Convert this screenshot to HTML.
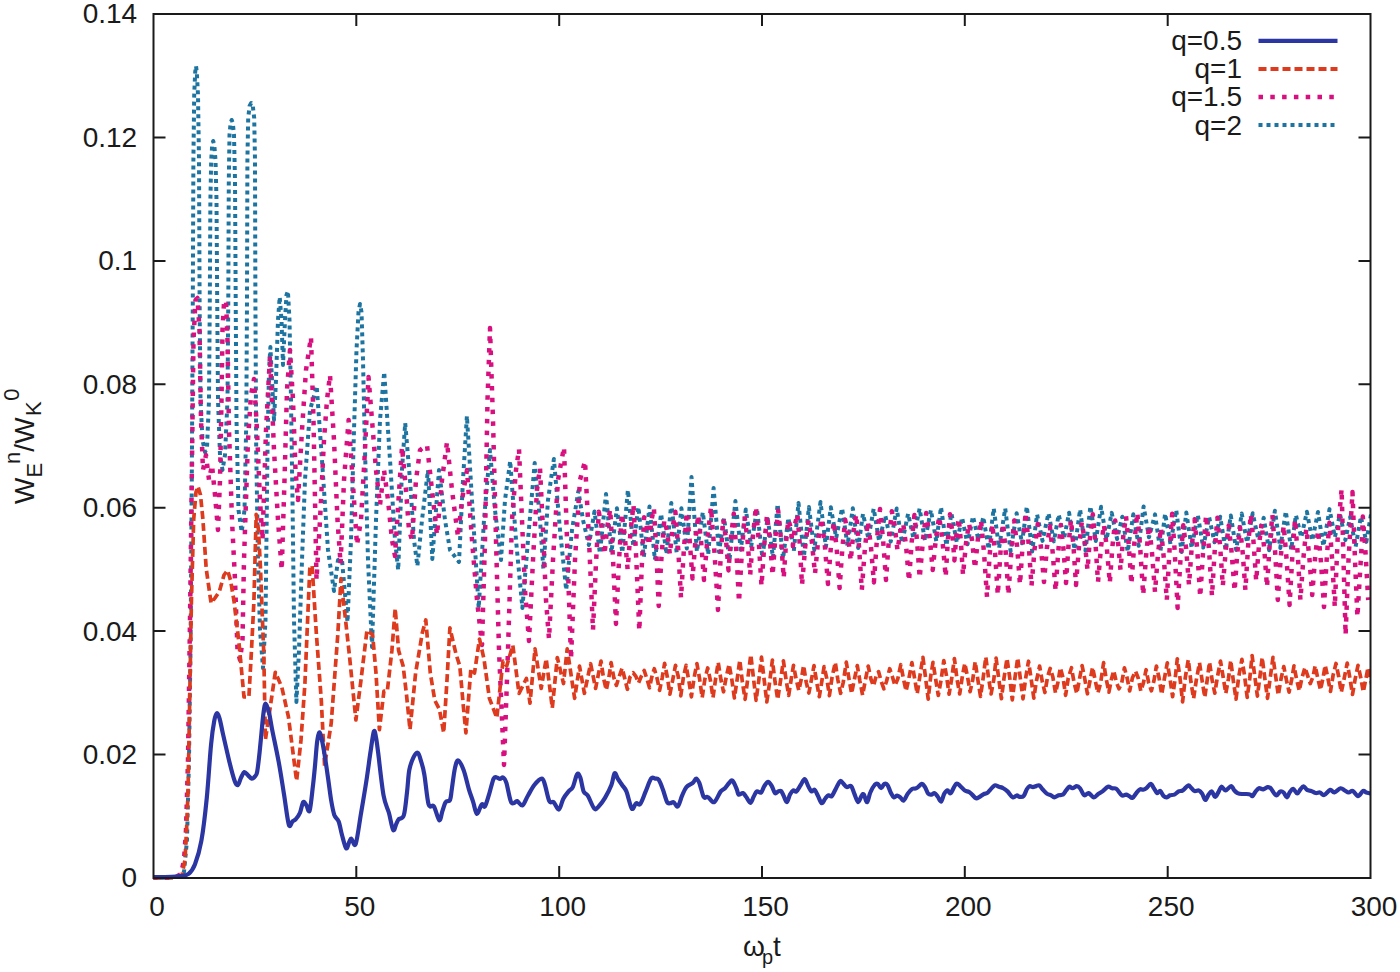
<!DOCTYPE html><html><head><meta charset="utf-8"><style>html,body{margin:0;padding:0;background:#fff;}svg{display:block}</style></head><body>
<svg width="1400" height="972" viewBox="0 0 1400 972" font-family='"Liberation Sans", sans-serif' font-size="28" fill="#1a1a1a">
<rect width="1400" height="972" fill="#fff"/>
<defs><clipPath id="c"><rect x="153.5" y="12.0" width="1217.0" height="868.0"/></clipPath></defs>
<g clip-path="url(#c)" fill="none" stroke-linejoin="round">
<path d="M153.0 878.0L180.0 877.0L184.0 872.0L187.0 840.0L189.0 760.0L190.5 650.0L191.8 480.0L192.8 300.0L193.4 160.0L194.2 95.0L195.2 72.0L196.0 66.0L196.8 72.0L198.0 95.0L199.0 160.0L199.6 300.0L200.5 400.0L202.5 440.0L205.0 452.0L207.0 448.0L209.0 400.0L209.8 300.0L210.4 200.0L211.2 160.0L212.2 145.0L213.2 141.0L214.3 145.0L215.5 160.0L216.5 200.0L217.2 300.0L218.0 400.0L220.0 455.0L222.5 470.0L225.0 455.0L227.5 400.0L228.3 300.0L228.8 180.0L229.5 135.0L230.6 123.0L231.7 120.0L232.8 123.0L234.0 135.0L235.0 180.0L235.7 300.0L236.5 420.0L238.5 510.0L241.7 532.0L244.5 510.0L246.3 420.0L247.0 300.0L247.4 160.0L248.2 118.0L249.6 106.0L251.2 103.0L252.8 106.0L254.2 118.0L255.0 160.0L255.4 300.0L256.2 450.0L258.0 560.0L260.0 630.0L263.0 668.0L265.5 620.0L267.5 450.0L269.0 370.0L270.4 347.0L272.0 380.0L274.0 420.0L276.0 380.0L278.0 320.0L279.7 297.0L281.5 320.0L283.0 365.0L285.0 320.0L286.5 295.0L287.9 291.0L289.5 320.0L291.0 400.0L292.5 500.0L294.0 620.0L296.4 702.0L299.0 650.0L302.0 560.0L305.0 480.0L310.0 410.0L316.7 386.0L322.0 460.0L328.0 550.0L334.0 591.0L338.0 560.0L342.0 560.0L347.5 622.0L351.0 540.0L354.0 430.0L356.5 350.0L358.5 312.0L360.0 304.0L361.5 312.0L363.0 360.0L365.0 450.0L368.0 560.0L372.0 647.0L376.0 520.0L380.0 420.0L384.2 372.0L390.0 460.0L395.0 540.0L398.2 570.0L402.0 470.0L405.2 423.0L410.0 480.0L414.0 540.0L417.4 566.0L422.0 520.0L428.0 470.0L432.3 559.0L436.0 510.0L439.0 470.0L445.0 520.0L450.0 550.0L459.0 562.0L463.0 480.0L466.9 416.0L472.0 500.0L478.7 608.0L484.0 520.0L490.0 450.0L495.0 510.0L501.0 560.0L505.0 500.0L510.2 461.0L516.0 540.0L522.4 608.0L528.0 540.0L534.7 463.0L540.0 520.0L543.4 569.0L548.0 500.0L553.9 459.0L560.0 530.0L566.2 590.0L572.0 530.0L578.4 491.0L583.0 520.0L588.9 545.0L594.5 511.4L599.9 553.4L606.0 494.0L611.4 552.6L616.9 508.2L622.3 552.7L627.9 490.0L633.3 546.4L638.4 507.1L643.8 557.1L649.5 506.5L654.9 559.7L661.1 513.8L666.5 554.2L671.3 503.0L676.7 552.9L681.4 508.3L686.8 548.6L691.5 477.0L696.9 551.6L702.8 512.2L708.2 554.6L713.6 488.0L719.0 551.9L724.1 518.0L729.5 559.9L735.4 501.0L740.8 549.7L745.8 509.5L751.2 546.1L757.0 509.0L762.4 557.7L767.6 517.5L773.0 557.7L777.6 504.0L783.0 558.7L788.4 517.8L793.8 551.0L798.5 503.0L803.9 556.7L808.9 507.0L814.3 550.0L820.5 502.0L825.9 546.8L830.8 507.2L836.2 537.9L842.1 508.1L847.5 545.4L852.8 508.3L858.2 548.0L863.0 513.7L868.4 538.7L873.7 508.6L879.1 541.0L885.3 515.6L890.7 541.6L896.7 508.5L902.1 542.9L908.1 513.7L913.5 538.5L919.6 508.6L925.0 540.9L930.9 509.9L936.3 541.4L941.0 507.1L946.4 545.7L951.4 513.2L956.8 542.6L962.1 517.5L967.5 544.3L973.0 516.4L978.4 539.7L983.3 516.9L988.7 549.3L993.7 508.3L999.1 548.1L1005.2 508.4L1010.6 551.3L1016.6 513.2L1022.0 543.3L1026.8 506.5L1032.2 551.4L1037.1 514.5L1042.5 540.9L1048.5 513.2L1053.9 541.4L1058.7 514.6L1064.1 538.0L1069.1 512.7L1074.5 549.8L1080.1 509.4L1085.5 550.8L1090.4 506.2L1095.8 541.0L1101.1 506.7L1106.5 539.6L1111.7 512.9L1117.1 539.0L1122.3 516.7L1127.7 551.7L1133.3 514.3L1138.7 545.8L1143.6 506.4L1149.0 537.3L1155.0 514.4L1160.4 551.4L1165.1 513.6L1170.5 544.2L1176.2 509.8L1181.6 552.0L1186.3 512.6L1191.7 548.1L1197.8 514.8L1203.2 547.6L1209.1 517.0L1214.5 542.3L1220.2 516.8L1225.6 550.1L1230.8 515.5L1236.2 550.0L1241.7 513.5L1247.1 542.7L1252.7 513.3L1258.1 538.2L1263.7 517.9L1269.1 550.2L1274.9 510.7L1280.3 548.0L1285.8 511.3L1291.2 549.6L1295.9 515.0L1301.3 537.4L1306.9 511.8L1312.3 540.5L1318.0 512.0L1323.4 546.2L1329.5 509.1L1334.9 537.2L1340.0 514.1L1345.4 540.0L1350.2 516.9L1355.6 546.9L1360.9 516.7L1366.3 541.9L1372.0 508.4L1377.4 543.5" stroke="#1d74a0" stroke-width="4" stroke-dasharray="4 4"/>
<path d="M153.0 878.0L175.0 877.5L181.0 874.0L184.0 860.0L186.0 830.0L188.0 760.0L190.0 620.0L192.0 460.0L193.5 340.0L195.5 300.0L197.5 298.0L199.5 330.0L201.0 420.0L203.0 470.0L206.0 455.0L209.0 480.0L212.0 465.0L215.0 495.0L218.0 530.0L220.0 480.0L221.5 400.0L222.5 330.0L224.0 303.0L226.0 300.0L227.5 340.0L229.0 430.0L232.0 520.0L235.0 580.0L237.5 650.0L240.0 660.0L242.5 640.0L244.0 560.0L248.0 440.0L251.0 395.0L254.0 379.0L257.0 430.0L260.0 500.0L262.5 540.0L266.0 430.0L270.0 356.0L274.0 450.0L278.0 520.0L281.7 570.0L284.5 480.0L287.0 390.0L290.0 350.0L293.0 400.0L295.5 470.0L298.0 500.0L302.0 430.0L306.0 370.0L311.0 337.0L313.5 420.0L316.5 580.0L320.0 520.0L324.0 440.0L327.0 400.0L330.0 375.0L334.0 440.0L337.5 520.0L340.6 564.0L344.0 480.0L348.6 420.0L352.0 470.0L357.0 545.0L361.0 520.0L365.0 450.0L368.5 377.0L372.0 420.0L376.0 470.0L380.0 505.0L384.0 470.0L388.0 500.0L392.0 540.0L395.0 556.0L398.5 500.0L402.0 447.0L406.0 490.0L409.0 530.0L412.0 540.0L416.0 480.0L420.0 450.0L427.0 445.0L432.0 490.0L437.0 535.0L442.0 480.0L447.0 442.0L452.0 490.0L458.0 537.0L462.0 500.0L467.0 470.0L472.0 540.0L477.0 600.0L482.0 645.0L485.0 540.0L487.5 400.0L490.0 328.0L493.0 420.0L496.0 540.0L499.0 650.0L504.0 765.0L508.0 650.0L512.0 520.0L516.0 470.0L519.0 449.0L522.0 520.0L525.0 590.0L529.0 641.0L533.0 560.0L537.0 490.0L540.0 468.0L543.0 530.0L546.0 600.0L549.0 639.0L553.0 560.0L558.0 480.0L564.0 447.0L567.0 540.0L571.0 659.0L575.0 560.0L580.0 480.0L585.0 461.0L589.0 540.0L593.0 630.0L595.9 564.9L598.8 511.8L601.6 527.1L604.5 554.5L607.4 525.8L610.2 509.2L613.1 560.6L616.0 624.0L618.9 562.7L621.8 513.5L624.7 535.3L627.6 569.2L630.6 530.9L633.5 504.7L636.4 561.8L639.3 631.0L641.7 568.1L644.1 517.2L646.6 525.4L649.0 545.5L651.4 520.8L653.9 508.1L656.3 551.0L658.7 606.0L661.5 557.0L664.3 520.0L667.1 531.2L669.9 554.4L672.6 527.1L675.4 511.8L678.2 548.9L681.0 598.0L683.9 549.1L686.8 512.1L689.6 539.3L692.5 578.5L695.4 540.7L698.2 514.9L701.1 541.4L704.0 580.0L707.5 537.6L711.0 507.3L714.5 552.6L718.0 610.0L720.6 558.5L723.2 518.9L725.9 538.7L728.5 570.4L731.1 536.0L733.8 513.6L736.4 551.8L739.0 602.0L741.8 553.1L744.6 516.1L747.4 539.4L750.2 574.7L753.1 534.6L755.9 506.6L758.7 540.3L761.5 586.0L764.3 544.6L767.0 515.2L769.8 539.3L772.6 575.3L775.4 537.0L778.2 510.8L780.9 538.4L783.7 578.0L786.0 543.0L788.3 519.9L790.6 527.1L792.9 546.2L795.1 524.0L797.4 513.8L799.7 543.4L802.0 585.0L805.2 546.8L808.5 520.5L811.8 541.1L815.0 573.8L818.2 539.9L821.5 518.1L824.8 545.0L828.0 584.0L830.9 546.8L833.8 521.6L836.7 548.8L839.6 588.0L842.4 547.9L845.2 519.8L847.9 534.3L850.7 560.8L853.5 531.6L856.2 514.3L859.0 546.2L861.8 590.0L864.8 549.7L867.8 521.4L870.9 545.9L873.9 582.4L876.9 539.8L880.0 509.1L883.0 538.6L886.0 580.0L888.9 539.6L891.8 511.2L894.6 524.8L897.5 550.4L900.4 530.9L903.2 523.4L906.1 546.2L909.0 581.0L911.7 542.0L914.4 515.1L917.0 540.5L919.7 578.0L923.0 539.6L926.2 513.1L929.5 535.6L932.7 570.1L936.0 537.4L939.2 516.6L942.5 540.8L945.7 577.0L947.9 539.6L950.0 514.3L952.2 531.4L954.4 560.4L956.5 533.3L958.7 518.2L960.8 540.6L963.0 575.0L966.0 543.2L969.0 523.5L972.0 539.9L975.0 568.4L978.0 538.2L981.0 520.1L984.0 552.6L987.0 597.0L989.7 554.6L992.4 524.2L995.1 553.6L997.8 595.0L1000.4 553.1L1003.1 523.2L1005.8 553.1L1008.4 595.0L1011.3 551.7L1014.2 520.5L1017.1 546.5L1020.0 584.6L1022.8 542.6L1025.7 512.5L1028.6 543.3L1031.5 586.0L1034.6 548.9L1037.8 523.9L1040.9 546.9L1044.0 582.0L1046.9 547.9L1049.8 525.7L1052.7 552.4L1055.6 591.0L1058.2 552.0L1060.8 524.9L1063.4 548.0L1066.0 583.0L1068.5 545.4L1071.0 519.7L1073.5 546.4L1076.0 585.0L1078.9 547.6L1081.8 522.2L1084.6 540.1L1087.5 570.0L1090.1 536.2L1092.8 514.3L1095.4 542.2L1098.0 582.0L1101.0 547.2L1103.9 524.5L1106.8 547.7L1109.8 583.0L1112.5 545.8L1115.2 520.5L1117.8 539.3L1120.5 570.0L1123.2 537.0L1126.0 516.1L1128.7 544.0L1131.4 584.0L1134.4 542.4L1137.3 512.7L1140.2 547.9L1143.2 595.0L1146.2 554.3L1149.1 525.5L1152.0 552.8L1155.0 592.0L1158.0 554.0L1160.9 527.9L1163.8 558.0L1166.8 600.0L1169.5 550.8L1172.2 513.7L1174.9 554.8L1177.6 608.0L1180.4 560.6L1183.3 525.2L1186.2 549.1L1189.0 585.0L1191.8 546.1L1194.6 519.2L1197.4 552.1L1200.2 597.0L1203.2 550.1L1206.1 515.2L1209.0 549.6L1212.0 596.0L1214.7 550.8L1217.4 517.7L1220.1 545.8L1222.8 586.0L1225.8 549.7L1228.7 525.5L1231.6 552.2L1234.6 591.0L1237.3 553.1L1240.0 527.3L1242.7 552.6L1245.4 590.0L1248.1 546.1L1250.8 514.2L1253.5 541.6L1256.2 581.0L1258.9 546.3L1261.6 523.5L1264.3 549.3L1267.0 587.0L1269.7 544.8L1272.4 514.6L1275.1 551.3L1277.8 600.0L1280.8 556.8L1283.7 525.5L1286.6 559.3L1289.6 605.0L1292.3 556.3L1295.0 519.5L1297.7 553.8L1300.4 600.0L1303.4 558.2L1306.3 528.5L1309.2 555.7L1312.2 595.0L1315.2 556.6L1318.1 530.3L1321.0 562.6L1324.0 607.0L1326.7 558.9L1329.4 522.8L1332.1 558.9L1334.8 607.0L1338.0 530.0L1341.6 489.0L1343.5 560.0L1345.6 635.0L1348.5 560.0L1352.5 492.0L1355.0 560.0L1357.4 617.0L1362.0 540.0L1362.8 516.5L1365.5 552.3L1368.2 600.0" stroke="#d8107f" stroke-width="4.5" stroke-dasharray="4.5 7.3"/>
<path d="M153.0 878.0L175.0 877.5L182.0 875.0L185.0 860.0L187.0 820.0L188.1 789.0L189.7 700.3L191.4 601.6L193.7 519.3L196.0 492.0L198.0 486.4L200.5 495.0L202.9 519.3L206.2 568.7L211.1 603.2L215.0 598.0L219.3 591.7L224.0 575.0L227.6 570.3L230.5 580.0L234.1 601.6L239.1 644.3L244.0 697.0L248.9 697.0L251.5 650.0L253.9 601.6L256.2 514.4L258.5 530.0L260.5 568.7L263.8 654.2L265.4 739.7L270.3 706.8L275.3 672.3L281.8 687.1L288.4 716.7L296.6 780.9L301.0 740.0L304.9 683.8L309.8 568.7L312.1 565.4L316.4 634.5L321.3 700.3L324.6 766.0L331.2 723.3L337.8 634.5L341.0 578.5L349.3 654.2L355.9 720.0L361.0 680.0L367.0 630.1L372.6 634.7L376.0 673.1L379.4 729.7L383.9 691.2L387.3 691.2L391.9 650.5L395.2 608.6L398.6 650.5L403.2 666.3L406.6 695.7L410.0 729.7L415.6 673.1L422.4 632.4L425.8 620.0L430.3 673.1L434.8 700.3L439.4 709.3L443.7 732.8L447.0 680.0L449.9 627.9L456.0 654.0L459.8 666.0L463.5 708.0L465.9 732.8L470.9 668.6L474.5 673.0L479.5 639.0L484.0 659.0L489.4 698.3L496.8 718.0L503.0 661.0L506.7 666.0L512.8 645.2L519.0 693.3L526.4 678.5L530.0 703.2L535.0 648.9L541.2 688.4L546.2 658.8L552.3 708.0L557.3 657.5L563.5 683.5L567.2 648.9L574.6 698.3L579.5 666.2L584.4 693.3L590.6 663.7L595.6 688.4L601.0 661.1L603.6 678.4L606.3 690.1L609.0 676.7L611.1 662.5L613.7 677.1L616.4 685.4L619.0 677.1L622.1 668.2L624.7 678.3L627.4 689.3L630.0 677.0L633.2 672.8L635.9 676.4L638.5 683.0L641.2 676.5L644.2 670.5L646.9 678.7L649.5 687.8L652.2 675.2L654.3 668.7L656.9 677.6L659.6 690.4L662.2 677.8L664.6 663.3L667.3 676.8L669.9 694.2L672.6 680.6L675.5 665.3L678.2 676.3L680.8 695.8L683.5 676.5L686.1 665.4L688.8 680.5L691.4 696.8L694.1 677.7L696.9 663.5L699.6 678.9L702.2 697.5L704.9 679.0L707.7 668.0L710.4 680.3L713.0 697.5L715.7 678.2L718.2 662.3L720.9 679.5L723.5 691.8L726.2 677.1L729.1 664.3L731.8 679.3L734.4 697.9L737.1 679.7L739.8 660.2L742.4 682.3L745.1 699.3L747.7 679.3L750.8 654.8L753.5 678.4L756.1 700.3L758.8 680.2L761.5 657.2L764.2 680.0L766.8 702.0L769.5 683.2L772.4 660.1L775.0 681.6L777.7 699.4L780.3 682.2L783.4 660.8L786.1 679.9L788.7 695.4L791.4 677.9L793.5 665.4L796.2 679.5L798.8 690.4L801.5 678.3L803.6 665.5L806.3 682.6L808.9 693.0L811.6 678.8L814.0 665.6L816.7 682.3L819.3 696.7L822.0 680.1L824.1 666.6L826.8 678.6L829.4 695.6L832.1 677.1L835.3 662.4L837.9 680.0L840.6 693.3L843.2 682.6L846.3 662.2L849.0 678.7L851.6 693.5L854.3 679.7L857.3 665.6L859.9 681.1L862.6 695.1L865.2 681.0L868.2 666.0L870.9 679.0L873.5 685.9L876.2 676.1L878.6 671.7L881.2 681.3L883.9 688.8L886.5 681.5L889.7 668.7L892.4 676.7L895.0 685.6L897.7 679.1L900.8 664.7L903.5 679.0L906.1 691.0L908.8 679.0L911.9 662.5L914.5 677.7L917.2 693.7L919.8 676.8L922.9 657.3L925.5 677.1L928.2 699.1L930.8 675.7L933.0 662.4L935.7 679.4L938.3 695.5L941.0 680.5L943.8 660.6L946.4 675.3L949.1 694.2L951.7 678.4L954.4 658.6L957.1 679.7L959.7 694.0L962.4 676.0L964.8 663.3L967.4 676.1L970.1 691.7L972.7 680.0L975.2 661.6L977.9 680.1L980.5 696.4L983.2 677.7L985.8 657.1L988.5 677.4L991.1 694.0L993.8 679.6L996.1 658.2L998.7 678.3L1001.4 698.7L1004.0 678.3L1007.0 658.5L1009.6 676.7L1012.3 699.9L1014.9 678.3L1017.7 658.0L1020.3 678.2L1023.0 698.8L1025.6 678.6L1028.5 661.2L1031.1 678.6L1033.8 698.1L1036.4 681.0L1039.6 666.1L1042.3 681.7L1044.9 692.5L1047.6 676.8L1050.2 668.4L1052.8 676.8L1055.5 693.0L1058.1 681.7L1060.3 667.6L1063.0 677.5L1065.6 695.3L1068.3 677.9L1071.5 667.7L1074.1 682.8L1076.8 693.5L1079.4 679.5L1082.1 665.6L1084.8 679.0L1087.4 693.8L1090.1 680.4L1092.6 667.3L1095.3 681.0L1097.9 693.0L1100.6 683.2L1103.6 662.7L1106.2 679.0L1108.9 692.1L1111.5 679.0L1113.7 670.6L1116.4 682.4L1119.0 688.8L1121.7 683.0L1124.4 667.8L1127.1 677.8L1129.7 690.9L1132.4 677.9L1135.5 671.1L1138.2 678.0L1140.8 691.0L1143.5 682.6L1146.1 669.7L1148.7 682.9L1151.4 690.8L1154.0 680.5L1156.4 666.0L1159.0 677.5L1161.7 694.4L1164.3 679.1L1167.3 662.9L1169.9 678.1L1172.6 696.7L1175.2 678.5L1177.3 658.8L1180.0 678.0L1182.6 701.8L1185.3 677.5L1188.3 659.7L1190.9 681.6L1193.6 698.6L1196.2 680.7L1199.5 662.8L1202.1 680.5L1204.8 697.4L1207.4 678.4L1209.5 662.0L1212.2 680.4L1214.8 693.1L1217.5 676.5L1220.5 661.0L1223.2 677.4L1225.8 693.4L1228.5 678.5L1230.7 660.4L1233.4 681.2L1236.0 699.2L1238.7 676.9L1241.9 659.3L1244.5 675.2L1247.2 697.4L1249.8 678.2L1252.1 655.5L1254.8 676.5L1257.4 696.1L1260.1 675.2L1262.2 657.5L1264.8 678.3L1267.5 698.3L1270.1 678.7L1273.0 657.3L1275.7 676.6L1278.3 695.1L1281.0 679.0L1283.8 666.6L1286.4 679.9L1289.1 692.1L1291.7 679.4L1294.0 665.9L1296.6 679.5L1299.3 690.9L1301.9 678.0L1305.0 667.5L1307.7 675.9L1310.3 683.6L1313.0 676.7L1315.2 665.8L1317.8 678.4L1320.5 690.0L1323.1 677.5L1325.2 665.2L1327.8 677.7L1330.5 691.5L1333.1 675.1L1336.0 663.5L1338.7 676.5L1341.3 692.3L1344.0 679.3L1347.2 663.1L1349.9 678.0L1352.5 694.5L1355.2 678.8L1358.0 665.3L1360.6 676.9L1363.3 691.8L1365.9 678.8L1368.0 667.6L1370.7 679.6L1373.3 692.0L1376.0 677.4" stroke="#dd3a1e" stroke-width="3.7" stroke-dasharray="8 4"/>
<path d="M154.3 877.1C157.2 877.1 167.1 877.1 171.4 876.9C175.7 876.7 177.1 876.6 180.0 876.1C182.9 875.6 186.1 875.9 188.6 873.9C191.1 871.9 192.9 869.8 195.0 864.3C197.1 858.8 199.4 851.8 201.4 840.7C203.4 829.6 205.2 813.9 206.8 797.8C208.4 781.7 209.8 757.1 211.1 744.3C212.3 731.4 213.3 725.9 214.3 720.7C215.3 715.5 216.0 713.6 216.9 713.2C217.8 712.9 218.6 715.2 219.6 718.6C220.6 722.0 221.3 726.5 222.9 733.6C224.5 740.7 227.4 753.5 229.3 761.4C231.2 769.2 233.2 776.8 234.6 780.7C236.0 784.6 236.8 785.5 237.9 785.0C239.0 784.5 240.0 779.6 241.1 777.5C242.2 775.4 243.1 772.5 244.3 772.1C245.5 771.8 246.8 774.3 248.1 775.4C249.3 776.5 250.7 778.4 251.8 778.6C253.0 778.8 254.1 777.5 255.0 776.4C255.9 775.3 256.4 775.7 257.1 772.1C257.8 768.5 258.6 761.4 259.3 755.0C260.0 748.6 260.7 740.8 261.4 733.6C262.1 726.5 262.9 717.1 263.6 712.1C264.3 707.1 264.8 703.6 265.7 703.6C266.6 703.6 267.8 707.8 268.9 712.1C270.0 716.4 270.5 721.1 272.1 729.3C273.7 737.5 276.6 750.7 278.6 761.4C280.6 772.1 282.2 783.1 283.9 793.6C285.6 804.1 287.4 820.0 288.8 824.6C290.2 829.2 291.4 822.3 292.5 821.4C293.6 820.5 294.4 820.7 295.7 819.3C296.9 817.9 298.8 815.7 300.0 812.8C301.2 809.9 302.1 803.4 303.2 802.1C304.3 800.9 305.3 803.9 306.4 805.3C307.5 806.7 308.5 813.7 309.6 810.7C310.7 807.7 311.9 794.6 312.8 787.1C313.7 779.6 314.3 773.2 315.0 765.7C315.7 758.2 316.4 747.6 317.1 742.1C317.8 736.6 318.6 733.2 319.3 732.5C320.0 731.8 320.7 735.2 321.4 737.9C322.1 740.6 322.5 742.2 323.6 748.6C324.7 755.0 326.6 767.8 327.8 776.4C329.1 785.0 330.0 793.6 331.1 800.0C332.2 806.4 333.1 811.4 334.3 815.0C335.6 818.6 337.4 818.2 338.6 821.4C339.9 824.6 340.6 829.8 341.8 834.3C343.1 838.8 344.9 847.0 346.1 848.2C347.4 849.5 348.4 843.4 349.3 841.8C350.2 840.2 350.3 838.2 351.4 838.6C352.5 839.0 354.1 848.2 355.7 843.9C357.3 839.6 359.3 823.3 361.1 812.8C362.9 802.3 364.8 791.1 366.4 780.7C368.0 770.4 369.4 758.9 370.7 750.7C371.9 742.5 373.0 733.5 373.9 731.4C374.8 729.3 375.4 734.3 376.1 737.9C376.8 741.5 376.9 743.3 378.2 752.9C379.4 762.5 381.8 785.7 383.6 795.7C385.4 805.7 387.3 807.1 388.9 812.8C390.5 818.5 391.9 828.2 393.2 830.0C394.4 831.8 395.5 825.4 396.4 823.6C397.3 821.8 397.4 820.7 398.6 819.3C399.9 817.9 402.5 819.6 403.9 815.0C405.3 810.4 406.2 798.9 407.1 791.4C408.0 783.9 408.2 775.7 409.3 770.0C410.4 764.3 412.2 760.0 413.6 757.1C415.0 754.2 416.6 752.2 417.8 752.9C419.1 753.6 420.0 757.8 421.1 761.4C422.2 765.0 423.1 767.1 424.3 774.3C425.6 781.4 427.0 798.9 428.6 804.3C430.2 809.6 432.1 803.7 433.9 806.4C435.7 809.1 437.9 819.6 439.3 820.3C440.7 821.0 441.4 813.7 442.5 810.7C443.6 807.7 444.4 803.9 445.7 802.1C446.9 800.3 449.0 802.1 450.0 800.0C451.0 797.9 451.0 794.6 451.8 789.3C452.6 783.9 453.9 772.7 455.0 767.9C456.1 763.1 456.8 760.0 458.2 760.4C459.6 760.8 461.8 765.2 463.6 770.0C465.4 774.8 467.3 783.9 468.9 789.3C470.5 794.6 471.9 798.0 473.2 802.1C474.5 806.2 475.5 813.5 476.9 813.9C478.3 814.3 480.4 805.5 481.8 804.3C483.2 803.0 483.8 808.2 485.0 806.4C486.2 804.6 487.9 798.2 489.3 793.6C490.7 789.0 492.4 781.3 493.6 778.6C494.9 775.9 495.7 777.4 496.8 777.5C497.9 777.6 498.9 779.0 500.0 779.0C501.1 779.0 502.1 776.9 503.2 777.5C504.3 778.1 505.1 779.0 506.4 782.9C507.6 786.8 509.4 797.7 510.7 801.1C511.9 804.5 512.8 803.2 513.9 803.2C515.0 803.2 515.7 800.7 517.1 801.1C518.5 801.5 520.7 806.3 522.5 805.4C524.3 804.5 525.9 799.1 527.9 795.7C529.9 792.3 532.0 787.9 534.3 785.0C536.6 782.1 540.0 778.6 541.8 778.6C543.6 778.6 543.8 781.2 545.0 785.0C546.2 788.8 547.9 798.2 549.3 801.1C550.7 804.0 552.0 800.7 553.6 802.1C555.2 803.5 557.3 810.1 558.9 809.6C560.5 809.1 561.6 801.9 563.2 798.9C564.8 795.9 567.0 793.4 568.6 791.4C570.2 789.4 571.4 790.0 572.8 787.1C574.2 784.2 575.9 775.9 577.1 774.3C578.4 772.7 579.2 774.6 580.3 777.5C581.4 780.4 582.4 788.4 583.6 791.4C584.9 794.4 586.0 792.8 587.8 795.7C589.6 798.6 592.5 806.8 594.3 808.6C596.1 810.4 596.8 808.2 598.6 806.4C600.4 804.6 602.9 801.5 605.0 797.9C607.1 794.3 609.8 789.1 611.4 785.0C613.0 780.9 613.5 774.3 614.6 773.2C615.7 772.1 616.5 776.6 617.8 778.6C619.0 780.6 620.7 782.9 622.1 785.0C623.5 787.1 624.8 787.5 626.4 791.4C628.0 795.3 630.2 806.6 631.8 808.6C633.4 810.6 634.7 804.0 636.1 803.2C637.5 802.4 638.7 805.9 640.3 803.9C641.9 801.9 643.9 795.6 645.7 791.4C647.5 787.2 649.5 780.7 651.1 778.6C652.7 776.5 654.0 778.4 655.3 778.6C656.5 778.8 657.4 777.8 658.6 779.6C659.9 781.4 661.4 785.5 662.8 789.3C664.2 793.0 665.9 799.8 667.1 802.1C668.4 804.4 669.2 803.2 670.3 803.2C671.4 803.2 672.4 801.6 673.6 802.1C674.9 802.6 676.4 807.5 677.8 806.4C679.2 805.3 680.7 798.9 682.1 795.7C683.5 792.5 684.6 789.2 686.4 787.1C688.2 785.0 691.2 784.3 692.8 782.9C694.4 781.5 695.0 778.6 696.1 778.6C697.2 778.6 698.0 779.9 699.3 782.9C700.5 785.9 702.4 794.5 703.6 796.8C704.9 799.1 705.9 796.6 706.8 796.8C707.7 797.0 707.6 797.0 708.9 797.9C710.1 798.8 712.3 803.2 714.3 802.1C716.3 801.0 718.9 793.7 720.7 791.4C722.5 789.1 723.6 789.6 725.0 788.2C726.4 786.8 728.0 784.1 729.3 782.9C730.5 781.6 731.2 779.6 732.5 780.7C733.8 781.8 735.8 787.0 736.8 789.3C737.8 791.6 737.6 794.0 738.6 794.6C739.6 795.2 741.6 792.7 742.9 793.1C744.1 793.5 744.9 795.2 746.1 796.8C747.4 798.4 749.1 802.8 750.4 802.8C751.6 802.8 752.5 798.7 753.6 796.8C754.7 794.9 755.5 792.1 756.8 791.4C758.0 790.7 759.9 793.4 761.1 792.5C762.4 791.6 763.1 787.9 764.3 786.1C765.5 784.3 766.9 781.8 768.1 781.8C769.4 781.8 770.6 784.2 771.8 786.1C772.9 788.0 773.9 792.2 775.0 793.1C776.1 794.0 777.2 791.8 778.2 791.4C779.2 791.0 780.1 790.3 781.0 791.0C781.9 791.7 782.6 793.9 783.6 795.7C784.6 797.6 785.7 802.3 786.8 802.1C787.9 801.9 788.9 796.6 790.0 794.6C791.1 792.6 792.1 790.9 793.2 790.4C794.3 789.9 795.1 792.3 796.4 791.4C797.6 790.5 799.3 787.1 800.7 785.0C802.1 782.9 803.4 778.8 804.6 779.0C805.9 779.2 807.1 784.0 808.2 786.1C809.3 788.2 810.3 790.8 811.4 791.4C812.5 792.0 813.5 789.0 814.6 789.7C815.7 790.4 816.7 793.5 817.9 795.7C819.1 798.0 820.5 802.8 821.7 803.2C823.0 803.6 824.2 799.6 825.4 798.3C826.5 797.0 827.5 795.7 828.6 795.3C829.7 794.9 830.5 797.3 831.8 796.1C833.0 794.9 834.7 790.7 836.1 788.2C837.5 785.7 839.0 781.8 840.3 781.1C841.5 780.4 842.5 782.9 843.6 783.9C844.7 784.9 845.5 786.7 846.8 787.1C848.0 787.5 849.9 785.0 851.1 786.1C852.4 787.2 853.1 790.9 854.3 793.6C855.5 796.3 856.9 801.8 858.1 802.1C859.4 802.4 860.8 796.5 861.8 795.3C862.8 794.0 863.0 793.5 863.9 794.6C864.8 795.7 866.0 802.5 867.1 802.1C868.2 801.8 869.0 795.4 870.3 792.5C871.5 789.6 873.4 786.4 874.6 785.0C875.9 783.6 876.7 783.4 877.8 783.9C878.9 784.4 880.0 788.2 881.1 788.2C882.2 788.2 883.2 784.4 884.3 783.9C885.4 783.4 886.4 783.6 887.5 785.0C888.6 786.4 889.6 790.4 890.7 792.5C891.8 794.6 892.8 796.9 893.9 797.4C895.0 797.9 896.0 795.7 897.1 795.7C898.2 795.7 899.2 796.6 900.3 797.4C901.4 798.2 902.4 801.2 903.6 800.6C904.9 800.0 906.4 795.6 907.8 793.6C909.2 791.6 910.7 789.8 912.1 788.9C913.5 788.0 914.8 789.0 916.4 788.2C918.0 787.4 920.4 784.1 921.8 783.9C923.2 783.7 923.9 785.5 925.0 787.1C926.1 788.7 927.1 792.4 928.2 793.6C929.3 794.9 930.3 794.7 931.4 794.6C932.5 794.5 933.5 792.7 934.6 793.1C935.7 793.5 936.7 795.4 937.8 796.8C938.9 798.2 940.0 802.0 941.1 801.5C942.2 801.0 943.2 795.5 944.3 793.6C945.4 791.8 946.4 790.5 947.5 790.4C948.6 790.3 949.3 794.2 950.7 793.1C952.1 792.0 954.5 785.1 956.1 783.9C957.7 782.7 958.9 785.0 960.3 786.1C961.7 787.2 963.2 789.4 964.6 790.4C966.0 791.4 967.6 791.2 968.9 791.9C970.1 792.6 970.9 793.5 972.1 794.6C973.3 795.7 974.8 797.9 976.0 798.3C977.2 798.7 978.3 797.5 979.6 796.8C980.9 796.1 982.6 794.6 983.9 794.0C985.1 793.4 986.0 793.8 987.1 793.1C988.2 792.4 989.0 791.0 990.3 789.7C991.5 788.4 993.2 785.9 994.6 785.4C996.0 784.9 997.5 786.2 998.9 786.7C1000.3 787.2 1001.8 787.4 1003.2 788.2C1004.6 789.0 1005.9 789.9 1007.5 791.4C1009.1 792.9 1011.2 796.8 1012.8 797.4C1014.4 798.0 1016.0 795.4 1017.1 795.3C1018.2 795.2 1018.2 796.7 1019.3 796.8C1020.4 796.9 1022.4 797.4 1023.6 796.1C1024.8 794.9 1025.8 791.0 1026.8 789.3C1027.8 787.6 1028.6 786.5 1029.6 786.1C1030.6 785.7 1031.8 787.1 1032.9 787.1C1034.0 787.1 1035.0 786.4 1036.1 786.1C1037.2 785.8 1038.2 784.9 1039.3 785.4C1040.4 785.9 1041.2 787.9 1042.5 789.3C1043.8 790.7 1045.4 792.6 1046.8 793.6C1048.2 794.6 1049.8 794.7 1051.1 795.3C1052.3 795.9 1053.0 797.4 1054.3 797.4C1055.5 797.4 1057.2 795.8 1058.6 795.3C1060.0 794.8 1061.7 795.4 1062.9 794.6C1064.2 793.8 1065.0 791.7 1066.1 790.4C1067.2 789.1 1068.2 787.1 1069.3 786.7C1070.4 786.3 1071.2 788.3 1072.5 788.2C1073.8 788.1 1075.5 786.1 1076.8 786.1C1078.0 786.1 1078.8 786.7 1080.0 788.2C1081.2 789.7 1082.9 794.5 1084.3 795.3C1085.7 796.1 1087.0 792.8 1088.6 793.1C1090.2 793.5 1092.3 797.2 1093.9 797.4C1095.5 797.5 1096.8 795.0 1098.2 794.0C1099.6 793.0 1100.9 792.6 1102.5 791.4C1104.1 790.2 1106.3 787.2 1107.9 786.7C1109.5 786.2 1110.7 787.8 1112.1 788.2C1113.5 788.6 1114.8 787.7 1116.4 788.9C1118.0 790.1 1120.2 794.3 1121.8 795.3C1123.4 796.2 1124.8 794.5 1126.1 794.6C1127.3 794.7 1128.2 795.6 1129.3 796.1C1130.4 796.6 1131.2 798.5 1132.5 797.9C1133.8 797.3 1135.5 793.9 1136.8 792.5C1138.0 791.1 1138.9 789.8 1140.0 789.3C1141.1 788.8 1142.1 789.9 1143.2 789.7C1144.3 789.5 1145.2 789.2 1146.4 788.2C1147.7 787.2 1149.5 783.9 1150.7 783.9C1152.0 783.9 1152.8 786.7 1153.9 788.2C1155.0 789.7 1156.0 792.6 1157.1 793.1C1158.2 793.6 1159.2 790.5 1160.3 791.0C1161.4 791.5 1162.5 795.0 1163.6 796.1C1164.7 797.2 1165.7 797.5 1166.8 797.4C1167.9 797.3 1168.8 795.8 1170.0 795.3C1171.2 794.8 1172.9 795.2 1174.3 794.6C1175.7 794.0 1177.2 792.1 1178.6 791.4C1180.0 790.7 1181.2 791.4 1182.8 790.4C1184.4 789.4 1186.8 785.8 1188.2 785.4C1189.6 785.0 1190.3 787.3 1191.4 788.2C1192.5 789.1 1193.3 790.6 1194.6 791.0C1195.8 791.4 1197.7 790.0 1198.9 790.4C1200.2 790.8 1201.0 792.0 1202.1 793.6C1203.2 795.2 1204.2 799.8 1205.3 800.0C1206.4 800.2 1207.5 796.0 1208.6 794.6C1209.7 793.2 1210.7 791.0 1211.8 791.4C1212.9 791.8 1213.9 796.6 1215.0 796.8C1216.1 797.0 1217.1 794.2 1218.2 792.5C1219.3 790.8 1220.2 787.1 1221.4 786.7C1222.7 786.4 1224.1 790.5 1225.7 790.4C1227.3 790.3 1229.7 786.1 1231.1 786.1C1232.5 786.1 1233.2 789.2 1234.3 790.4C1235.4 791.6 1236.2 792.5 1237.5 793.1C1238.8 793.7 1240.4 793.9 1241.8 794.0C1243.2 794.1 1244.7 793.9 1246.1 794.0C1247.5 794.1 1249.2 794.2 1250.3 794.6C1251.4 795.0 1251.6 796.6 1252.5 796.1C1253.4 795.6 1254.6 792.7 1255.7 791.4C1256.8 790.1 1257.7 788.6 1258.9 788.2C1260.2 787.9 1261.8 789.5 1263.2 789.3C1264.6 789.1 1266.2 787.3 1267.5 787.1C1268.8 786.9 1269.3 786.8 1270.7 788.2C1272.1 789.6 1274.5 794.8 1276.1 795.3C1277.7 795.8 1279.0 791.9 1280.3 791.4C1281.5 790.9 1282.5 791.5 1283.6 792.5C1284.7 793.5 1285.8 797.4 1286.8 797.4C1287.8 797.4 1288.5 793.9 1289.6 792.5C1290.7 791.1 1291.9 788.7 1293.2 788.9C1294.5 789.1 1296.1 793.4 1297.3 793.5C1298.5 793.6 1299.4 790.6 1300.4 789.4C1301.4 788.2 1302.4 786.2 1303.5 786.3C1304.6 786.4 1305.8 789.1 1307.1 789.9C1308.4 790.7 1309.8 790.4 1311.2 790.9C1312.7 791.4 1314.3 792.7 1315.8 793.0C1317.2 793.3 1318.5 792.2 1319.9 792.5C1321.3 792.8 1322.4 795.4 1324.1 795.0C1325.8 794.6 1328.5 790.3 1330.2 789.9C1331.9 789.5 1332.6 792.8 1334.3 792.5C1336.0 792.2 1338.8 788.6 1340.5 788.3C1342.2 787.9 1343.2 789.7 1344.6 790.4C1346.0 791.1 1347.3 792.4 1348.7 792.5C1350.1 792.6 1351.2 790.3 1352.8 790.9C1354.3 791.5 1356.3 796.1 1358.0 796.1C1359.7 796.1 1361.7 791.5 1363.1 790.9C1364.5 790.3 1364.9 792.1 1366.2 792.5C1367.5 792.9 1370.0 793.3 1370.8 793.5" stroke="#2b36a3" stroke-width="4.2" stroke-linecap="round"/>
</g>
<rect x="153.5" y="14.0" width="1217.0" height="864.0" fill="none" stroke="#1a1a1a" stroke-width="2"/>
<path d="M153.5 754.6h12M1370.5 754.6h-12M153.5 631.1h12M1370.5 631.1h-12M153.5 507.7h12M1370.5 507.7h-12M153.5 384.3h12M1370.5 384.3h-12M153.5 260.9h12M1370.5 260.9h-12M153.5 137.4h12M1370.5 137.4h-12M356.3 878.0v-12M356.3 14.0v12M559.2 878.0v-12M559.2 14.0v12M762.0 878.0v-12M762.0 14.0v12M964.8 878.0v-12M964.8 14.0v12M1167.7 878.0v-12M1167.7 14.0v12" stroke="#1a1a1a" stroke-width="2" fill="none"/>
<text x="137.2" y="887.4" text-anchor="end">0</text>
<text x="137.2" y="764.0" text-anchor="end">0.02</text>
<text x="137.2" y="640.5" text-anchor="end">0.04</text>
<text x="137.2" y="517.1" text-anchor="end">0.06</text>
<text x="137.2" y="393.7" text-anchor="end">0.08</text>
<text x="137.2" y="270.3" text-anchor="end">0.1</text>
<text x="137.2" y="146.8" text-anchor="end">0.12</text>
<text x="137.2" y="23.4" text-anchor="end">0.14</text>
<text x="157.0" y="916.3" text-anchor="middle">0</text>
<text x="359.8" y="916.3" text-anchor="middle">50</text>
<text x="562.7" y="916.3" text-anchor="middle">100</text>
<text x="765.5" y="916.3" text-anchor="middle">150</text>
<text x="968.3" y="916.3" text-anchor="middle">200</text>
<text x="1171.2" y="916.3" text-anchor="middle">250</text>
<text x="1374.0" y="916.3" text-anchor="middle">300</text>
<text x="743" y="956">ω<tspan font-size="20" dx="-3" dy="8">p</tspan><tspan dy="-8">t</tspan></text>
<text transform="translate(34,504) rotate(-90)">W<tspan font-size="22" dy="8">E</tspan><tspan font-size="22" dx="-1" dy="-22">n</tspan><tspan dy="14">/W</tspan><tspan font-size="22" dx="1.5" dy="7">K</tspan><tspan font-size="22" dx="0.5" dy="-22">0</tspan></text>
<text x="1242" y="50.3" text-anchor="end">q=0.5</text>
<path d="M1258.5 40.9H1337.5" stroke="#2b36a3" stroke-width="4.2"  fill="none"/>
<text x="1242" y="78.4" text-anchor="end">q=1</text>
<path d="M1258.5 69.0H1337.5" stroke="#dd3a1e" stroke-width="4" stroke-dasharray="8 4" fill="none"/>
<text x="1242" y="106.4" text-anchor="end">q=1.5</text>
<path d="M1258.5 97.0H1337.5" stroke="#d8107f" stroke-width="4.5" stroke-dasharray="4.5 7.3" fill="none"/>
<text x="1242" y="134.5" text-anchor="end">q=2</text>
<path d="M1258.5 125.1H1337.5" stroke="#1d74a0" stroke-width="4" stroke-dasharray="4 4" fill="none"/>
</svg></body></html>
